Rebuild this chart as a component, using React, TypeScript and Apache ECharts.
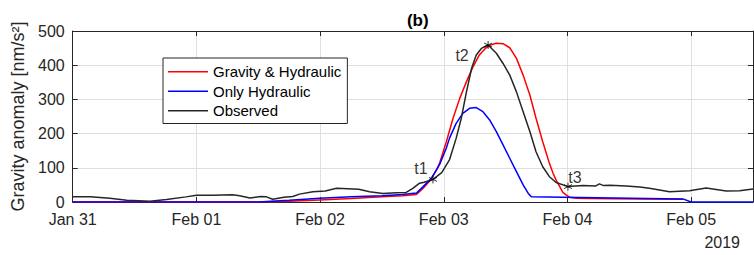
import React, { useEffect, useRef } from 'react';
import * as echarts from 'echarts';

// x values are hours since 2019-01-31 00:00
const xTickLabels = ['Jan 31', 'Feb 01', 'Feb 02', 'Feb 03', 'Feb 04', 'Feb 05'];
const yearLabel = '2019';
const yAxisTitle = 'Gravity anomaly [nm/s²]';
const chartTitle = '(b)';
const seriesNames = ['Gravity & Hydraulic', 'Only Hydraulic', 'Observed'];

const gravHours = [0, 36, 42, 48, 54, 60, 64, 66.7, 68, 69.3, 70.6, 71.2, 72.5, 73.8, 75.1, 76.4, 77.7, 78.9, 80.2, 81.2, 82.2, 83.5, 84.8, 86.1, 87.4, 88.7, 89.9, 91.2, 92.5, 93.2, 93.8, 94.5, 95.1, 95.8, 96.4, 97.7, 100, 110, 118.4];
const gravValues = [0, 0, 2, 6, 10, 15, 18, 22, 40, 62, 94, 114, 176, 245, 303, 352, 396, 430, 451, 460, 464, 463, 451, 420, 371, 313, 245, 176, 113, 84, 64, 45, 28, 20, 14, 11, 10, 9, 8];

const hydroHours = [0, 36, 42, 48, 54, 60, 64, 66.7, 68, 69.6, 71.2, 72.5, 73.1, 74.4, 75.7, 77, 78.3, 79.6, 80.9, 82.2, 83.5, 84.8, 86.1, 87.4, 88.4, 89, 95, 105, 118.4, 120, 132];
const hydroValues = [0, 0, 5, 11, 15, 18, 22, 26, 45, 69, 110, 158, 186, 230, 259, 274, 276, 264, 240, 206, 167, 128, 89, 50, 25, 15, 14, 12, 9, 0, 0];

const obsHours = [0, 3.4, 7.2, 10.5, 15, 18.2, 22, 24, 27.2, 31, 32.4, 34.4, 36.5, 37.6, 38.8, 41, 42.7, 44, 46.6, 49, 51.2, 55.5, 57.6, 60.2, 62.8, 64.7, 66, 67.3, 68.2, 69.9, 71.6, 73.1, 74.4, 75.4, 76.4, 77.4, 78.3, 79.3, 80.6, 82.2, 83.5, 84.8, 86.1, 87.4, 88.7, 89.9, 91.2, 92.5, 93.8, 96.1, 99, 101.5, 102.2, 103, 104.2, 107.4, 110, 111.9, 115.8, 119.7, 122.9, 126.8, 129.4, 132];
const obsValues = [15, 15, 11, 5, 2, 7, 15, 20, 20, 21, 18, 12, 16, 15, 8, 14, 16, 23, 30, 32, 40, 37, 30, 25, 27, 28, 40, 55, 58, 66, 86, 123, 186, 245, 322, 391, 430, 449, 459, 435, 405, 371, 322, 264, 206, 147, 103, 74, 57, 45, 48, 47, 53, 48, 49, 47, 44, 40, 30, 33, 41, 32, 33, 38];

const markerNames = ['t1', 't2', 't3'];
const markerHours = [69.9, 80.6, 96.1];
const markerValues = [66, 459, 45];
const markerLabelOffsets = [[-12, -11], [-26, 10], [7, -9]];

const FONT = '"Liberation Sans", Arial, Helvetica, sans-serif';
const AX = '#262626';

const pairs = (xs: number[], ys: number[]) => xs.map((x, i) => [x, ys[i]]);

export default function App() {
  const ref = useRef<HTMLDivElement>(null);
  useEffect(() => {
    if (!ref.current) return;
    const chart = echarts.init(ref.current, undefined, { renderer: 'svg' });
    const asterisk = 'path://M5,0L5,10M0.67,2.5L9.33,7.5M0.67,7.5L9.33,2.5';
    chart.setOption({
      animation: false,
      backgroundColor: '#fff',
      title: {
        text: chartTitle,
        left: 412.8,
        textAlign: 'center',
        top: 7,
        textStyle: { fontFamily: FONT, fontSize: 17, fontWeight: 'bold', color: '#000' },
      },
      grid: { left: 72.7, right: 1, top: 31, bottom: 53, containLabel: false },
      legend: {
        orient: 'vertical',
        left: 163,
        top: 58,
        padding: [4, 6, 3, 5],
        itemWidth: 40,
        itemHeight: 1.5,
        itemGap: 0,
        icon: 'rect',
        borderColor: '#262626',
        borderWidth: 1,
        borderRadius: 0,
        backgroundColor: '#fff',
        data: seriesNames,
        textStyle: { fontFamily: FONT, fontSize: 15, color: '#000', lineHeight: 19.5 },
      },
      xAxis: [
        {
          type: 'value',
          min: 0,
          max: 132,
          interval: 24,
          axisLine: { show: true, onZero: false, lineStyle: { color: AX, width: 1 } },
          axisTick: { show: true, inside: true, length: 5, lineStyle: { color: AX } },
          axisLabel: {
            margin: 9,
            fontFamily: FONT,
            fontSize: 16,
            color: AX,
            showMaxLabel: false,
            formatter: (v: number) => (v % 24 === 0 ? xTickLabels[v / 24] || '' : ''),
          },
          splitLine: { show: true, lineStyle: { color: '#dfdfdf', width: 1 } },
        },
        {
          type: 'value',
          position: 'top',
          min: 0,
          max: 132,
          interval: 24,
          axisLine: { show: true, onZero: false, lineStyle: { color: AX, width: 1 } },
          axisTick: { show: true, inside: true, length: 5, lineStyle: { color: AX } },
          axisLabel: { show: false },
          splitLine: { show: false },
        },
      ],
      yAxis: [
        {
          type: 'value',
          min: 0,
          max: 500,
          interval: 100,
          name: yAxisTitle,
          nameLocation: 'middle',
          nameGap: 31,
          nameTextStyle: { fontFamily: FONT, fontSize: 18, color: AX },
          axisLine: { show: true, onZero: false, lineStyle: { color: AX, width: 1 } },
          axisTick: { show: true, inside: true, length: 5, lineStyle: { color: AX } },
          axisLabel: { margin: 8, fontFamily: FONT, fontSize: 16, color: AX },
          splitLine: { show: true, lineStyle: { color: '#dfdfdf', width: 1 } },
        },
        {
          type: 'value',
          position: 'right',
          min: 0,
          max: 500,
          interval: 100,
          axisLine: { show: true, onZero: false, lineStyle: { color: AX, width: 1 } },
          axisTick: { show: true, inside: true, length: 5, lineStyle: { color: AX } },
          axisLabel: { show: false },
          splitLine: { show: false },
        },
      ],
      graphic: [
        {
          type: 'text',
          right: 14,
          top: 234,
          style: { text: yearLabel, fontFamily: FONT, fontSize: 16, fill: AX },
        },
      ],
      series: [
        {
          name: seriesNames[0],
          type: 'line',
          data: pairs(gravHours, gravValues),
          symbol: 'none',
          lineStyle: { color: '#ff0000', width: 1.5 },
          itemStyle: { color: '#ff0000' },
          z: 2,
        },
        {
          name: seriesNames[1],
          type: 'line',
          data: pairs(hydroHours, hydroValues),
          symbol: 'none',
          lineStyle: { color: '#0000ff', width: 1.5 },
          itemStyle: { color: '#0000ff' },
          z: 3,
        },
        {
          name: seriesNames[2],
          type: 'line',
          data: pairs(obsHours, obsValues),
          symbol: 'none',
          lineStyle: { color: '#262626', width: 1.5 },
          itemStyle: { color: '#262626' },
          z: 4,
        },
        {
          name: 'markers',
          type: 'scatter',
          data: markerHours.map((h, i) => ({
            value: [h, markerValues[i]],
            label: {
              show: true,
              formatter: markerNames[i],
              position: 'inside',
              offset: markerLabelOffsets[i],
              fontFamily: FONT,
              fontSize: 16,
              color: '#000',
            },
          })),
          symbol: asterisk,
          symbolSize: 8,
          itemStyle: { color: '#000', borderColor: '#000', borderWidth: 1 },
          z: 5,
        },
      ],
    });
    return () => chart.dispose();
  }, []);
  return <div ref={ref} style={{ position: 'fixed', left: 0, top: 0, width: 754, height: 255 }} />;
}
